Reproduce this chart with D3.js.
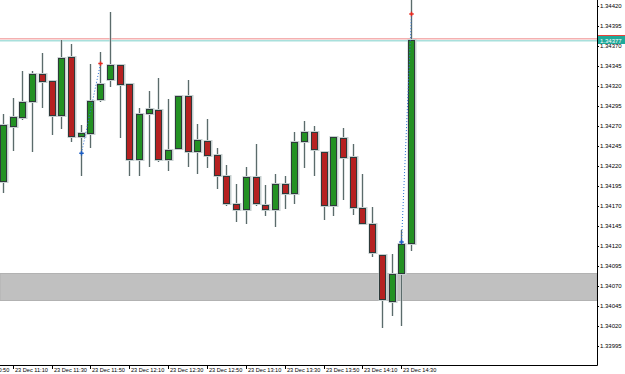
<!DOCTYPE html>
<html>
<head>
<meta charset="utf-8">
<script src="https://cdn.jsdelivr.net/npm/d3@7"></script>
<style>
  body { margin: 0; background: #fff; }
  svg { display: block; font-family: "Liberation Sans", Arial, sans-serif; }
</style>
</head>
<body>
<svg id="chart" width="625" height="374"></svg>
<script>
// 5 minute bars, 23 Dec
const times = ['11:05','11:10','11:15','11:20','11:25','11:30','11:35','11:40','11:45','11:50',
  '11:55','12:00','12:05','12:10','12:15','12:20','12:25','12:30','12:35','12:40',
  '12:45','12:50','12:55','13:00','13:05','13:10','13:15','13:20','13:25','13:30',
  '13:35','13:40','13:45','13:50','13:55','14:00','14:05','14:10','14:15','14:20',
  '14:25','14:30','14:35'];
const opens = [1.34200,1.34269,1.34280,1.34300,1.34335,1.34326,1.34282,1.34356,1.34256,1.34260,
  1.34302,1.34327,1.34346,1.34322,1.34228,1.34285,1.34290,1.34227,1.34241,1.34307,
  1.34237,1.34251,1.34234,1.34208,1.34172,1.34165,1.34206,1.34171,1.34165,1.34197,
  1.34185,1.34250,1.34263,1.34237,1.34170,1.34255,1.34231,1.34168,1.34147,1.34109,
  1.34050,1.34085,1.34123];
const highs = [1.34285,1.34305,1.34339,1.34339,1.34361,1.34328,1.34378,1.34373,1.34271,1.34347,
  1.34363,1.34412,1.34347,1.34322,1.34293,1.34314,1.34330,1.34304,1.34307,1.34328,
  1.34273,1.34279,1.34242,1.34221,1.34198,1.34219,1.34248,1.34196,1.34210,1.34207,
  1.34262,1.34276,1.34270,1.34239,1.34256,1.34267,1.34247,1.34210,1.34169,1.34109,
  1.34110,1.34140,1.34430];
const lows = [1.34186,1.34239,1.34278,1.34238,1.34292,1.34259,1.34266,1.34250,1.34207,1.34243,
  1.34300,1.34319,1.34255,1.34208,1.34207,1.34219,1.34225,1.34214,1.34241,1.34219,
  1.34210,1.34218,1.34191,1.34170,1.34150,1.34148,1.34170,1.34158,1.34144,1.34166,
  1.34173,1.34218,1.34207,1.34153,1.34158,1.34178,1.34159,1.34146,1.34106,1.34017,
  1.34033,1.34020,1.34114];
const closes = [1.34271,1.34281,1.34300,1.34335,1.34325,1.34282,1.34355,1.34256,1.34261,1.34301,
  1.34322,1.34346,1.34321,1.34228,1.34285,1.34291,1.34227,1.34240,1.34307,1.34237,
  1.34252,1.34233,1.34208,1.34172,1.34165,1.34206,1.34172,1.34165,1.34198,1.34185,
  1.34250,1.34263,1.34240,1.34170,1.34256,1.34230,1.34168,1.34147,1.34111,1.34052,
  1.34085,1.34122,1.34377];

// trades (open -> close)
const tradeOpenTimes = ['11:45','14:30'];
const tradeOpenPrices = [1.34236,1.34125];
const tradeCloseTimes = ['11:55','14:35'];
const tradeClosePrices = [1.34348,1.34410];

// support zone, bid / ask
const zone = [1.34053, 1.34086];
const bid = 1.34377;
const ask = 1.34379;

const priceTicks = [1.33995,1.34020,1.34045,1.34070,1.34095,1.34120,1.34145,1.34170,1.34195,
  1.34220,1.34245,1.34270,1.34295,1.34320,1.34345,1.34370,1.34395,1.34420];
const timeTicks = ['10:50','11:10','11:30','11:50','12:10','12:30','12:50','13:10','13:30','13:50','14:10','14:30'];

const parse = d3.timeParse('%Y-%m-%d %H:%M');
const t = s => parse('2013-12-23 ' + s);

const plotR = 597, plotB = 365;
const svg = d3.select('#chart');

const x = d3.scaleTime().domain([t('11:10'), t('14:30')]).range([12.7, 401.3]);
const y = d3.scaleLinear().domain([1.33995, 1.34420]).range([346, 6]);

svg.append('rect').attr('width', 625).attr('height', 374).attr('fill', '#fff');

svg.append('clipPath').attr('id', 'plot')
  .append('rect').attr('x', 0).attr('y', 0).attr('width', plotR).attr('height', plotB);

const plot = svg.append('g').attr('clip-path', 'url(#plot)');

// zone
const zy0 = Math.round(y(zone[1])), zy1 = Math.round(y(zone[0]));
plot.append('rect')
  .attr('x', 0).attr('y', zy0 + 0.5)
  .attr('width', plotR).attr('height', zy1 - zy0)
  .attr('fill', '#c0c0c0').attr('stroke', '#b2b2b2');

// ask / bid lines
plot.append('line')
  .attr('x1', 0).attr('x2', plotR)
  .attr('y1', y(ask)).attr('y2', y(ask))
  .attr('stroke', '#f4b0b0').attr('stroke-width', 1.6);
plot.append('line')
  .attr('x1', 0).attr('x2', plotR)
  .attr('y1', y(bid) + 0.3).attr('y2', y(bid) + 0.3)
  .attr('stroke', '#a8e0dc').attr('stroke-width', 1.6);

// candles
const bars = times.map((s, i) => ({ t: t(s), o: opens[i], h: highs[i], l: lows[i], c: closes[i] }));

const candle = plot.selectAll('g.candle')
  .data(bars)
  .join('g')
  .attr('class', 'candle')
  .attr('transform', d => 'translate(' + Math.round(x(d.t)) + ',0)');

// wick halo + wick
candle.append('line')
  .attr('x1', 0.5).attr('x2', 0.5)
  .attr('y1', d => Math.round(y(d.h))).attr('y2', d => Math.round(y(d.l)))
  .attr('stroke', '#c3cbcb').attr('stroke-width', 2);
candle.append('line')
  .attr('x1', 0.5).attr('x2', 0.5)
  .attr('y1', d => Math.round(y(d.h))).attr('y2', d => Math.round(y(d.l)))
  .attr('stroke', '#5b6b6b').attr('stroke-width', 1);

// body halo
candle.append('rect')
  .attr('x', -3.5).attr('width', 9)
  .attr('y', d => Math.round(y(Math.max(d.o, d.c))) - 1)
  .attr('height', d => Math.max(1, Math.round(y(Math.min(d.o, d.c))) - Math.round(y(Math.max(d.o, d.c)))) + 2)
  .attr('fill', '#c6cfcf');
// body
candle.append('rect')
  .attr('x', -2.5).attr('width', 6)
  .attr('y', d => Math.round(y(Math.max(d.o, d.c))) + 0.5)
  .attr('height', d => Math.max(1, Math.round(y(Math.min(d.o, d.c))) - Math.round(y(Math.max(d.o, d.c)))) - 1)
  .attr('fill', d => d.c >= d.o ? '#239123' : '#b52121')
  .attr('stroke', '#2e3a3a').attr('stroke-width', 1);

// trade lines
const trades = tradeOpenTimes.map((s, i) => ({
  x0: Math.round(x(t(s))) + 0.5, y0: y(tradeOpenPrices[i]),
  x1: Math.round(x(t(tradeCloseTimes[i]))) + 0.5, y1: y(tradeClosePrices[i])
}));

plot.selectAll('line.trade')
  .data(trades)
  .join('line')
  .attr('class', 'trade')
  .attr('x1', d => d.x0).attr('y1', d => d.y0)
  .attr('x2', d => d.x1).attr('y2', d => d.y1)
  .attr('stroke', '#2a6fd4').attr('stroke-width', 1)
  .attr('stroke-dasharray', '1,2');

const cross = d3.symbol().type(d3.symbolCross).size(11);
plot.selectAll('path.open')
  .data(trades)
  .join('path')
  .attr('class', 'open')
  .attr('transform', d => 'translate(' + d.x0 + ',' + d.y0 + ')')
  .attr('d', cross)
  .attr('fill', '#1a5cc4');
plot.selectAll('path.close')
  .data(trades)
  .join('path')
  .attr('class', 'close')
  .attr('transform', d => 'translate(' + d.x1 + ',' + d.y1 + ')')
  .attr('d', cross)
  .attr('fill', '#e8281e');

// axes
const yAxis = svg.append('g')
  .attr('transform', 'translate(' + plotR + ',0)')
  .call(d3.axisRight(y).tickValues(priceTicks).tickFormat(d3.format('.5f')).tickSize(2).tickSizeOuter(0));
yAxis.select('.domain').remove();
yAxis.selectAll('line').attr('stroke', '#000');
yAxis.selectAll('text')
  .attr('x', 3)
  .attr('font-size', 6)
  .attr('font-family', '"Liberation Sans", Arial, sans-serif')
  .attr('fill', '#000');

const xAxis = svg.append('g')
  .attr('transform', 'translate(0,' + plotB + ')')
  .call(d3.axisBottom(x).tickValues(timeTicks.map(t)).tickFormat(d3.timeFormat('%d %b %H:%M')).tickSize(4).tickSizeOuter(0));
xAxis.select('.domain').remove();
xAxis.selectAll('.tick line').attr('stroke', '#000');
xAxis.selectAll('.tick')
  .attr('transform', d => 'translate(' + (Math.round(x(d)) + 0.5) + ',0)');
xAxis.selectAll('text')
  .attr('x', 1.5)
  .attr('y', 3)
  .attr('text-anchor', 'start')
  .attr('font-size', 5.6)
  .attr('font-family', '"Liberation Sans", Arial, sans-serif')
  .attr('fill', '#000');

// frame
svg.append('line')
  .attr('x1', plotR + 0.5).attr('x2', plotR + 0.5)
  .attr('y1', 0).attr('y2', plotB + 0.5)
  .attr('stroke', '#000');
svg.append('line')
  .attr('x1', 0).attr('x2', plotR + 0.5)
  .attr('y1', plotB + 0.5).attr('y2', plotB + 0.5)
  .attr('stroke', '#000');

// ask / bid price tags
svg.append('rect')
  .attr('x', plotR + 1).attr('y', Math.round(y(ask)) - 4)
  .attr('width', 27).attr('height', 7)
  .attr('fill', '#e8403a');
svg.append('rect')
  .attr('x', plotR + 1).attr('y', Math.round(y(bid)) - 4)
  .attr('width', 27).attr('height', 8)
  .attr('fill', '#1fa99a');
svg.append('text')
  .attr('x', plotR + 3).attr('y', Math.round(y(bid)) + 2.5)
  .attr('font-size', 6)
  .attr('fill', '#fff')
  .text(d3.format('.5f')(bid));
</script>
</body>
</html>
